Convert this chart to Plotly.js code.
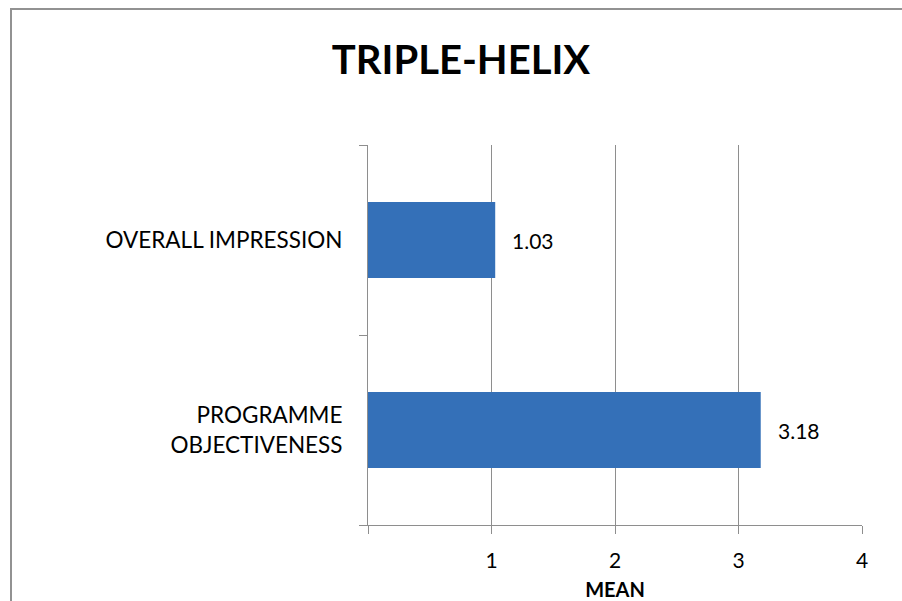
<!DOCTYPE html>
<html>
<head>
<meta charset="utf-8">
<script src="https://cdn.plot.ly/plotly-3.0.1.min.js"></script>
<style>html,body{margin:0;padding:0;background:#fff;}#chart{width:902px;height:601px;}</style>
</head>
<body>
<div id="chart"></div>
<script>
var categories = ["PROGRAMME<br>OBJECTIVENESS", "OVERALL IMPRESSION"];
var meanValues = [3.18, 1.03];
var valueLabels = ["3.18", "1.03"];
var xTickVals = [0, 1, 2, 3, 4];
var xTickText = ["", "1", "2", "3", "4"];

var FONT = "Lato, 'Open Sans', 'Liberation Sans', sans-serif";
var W = 902, H = 601;
var L = 368, R = 40, T = 145, B = 76;
var pw = W - L - R, ph = H - T - B;

var trace = {
  type: "bar",
  orientation: "h",
  x: meanValues,
  y: categories,
  width: 0.4,
  marker: {color: "#3470B8", line: {width: 0}},
  hoverinfo: "x+y"
};

var annotations = meanValues.map(function (v, i) {
  return {
    x: v, y: categories[i], xref: "x", yref: "y",
    text: valueLabels[i], showarrow: false,
    xanchor: "left", yanchor: "middle", xshift: 15,
    font: {family: FONT, size: 21, color: "#000"}
  };
});

var layout = {
  width: W, height: H,
  margin: {l: L, r: R, t: T, b: B, pad: 0},
  paper_bgcolor: "#fff", plot_bgcolor: "#fff",
  showlegend: false,
  title: {
    text: "<b>TRIPLE-HELIX</b>",
    font: {family: FONT, size: 40, color: "#000"},
    x: 461 / W, xref: "container", xanchor: "center",
    y: 1 - 60 / H, yref: "container", yanchor: "middle"
  },
  xaxis: {
    range: [0, 4], fixedrange: true,
    tickmode: "array", tickvals: xTickVals, ticktext: xTickText,
    showgrid: true, gridcolor: "#8e8e8e", gridwidth: 1,
    zeroline: false,
    showline: true, linecolor: "#8e8e8e", linewidth: 1,
    ticks: "outside", ticklen: 8, tickcolor: "#8e8e8e", tickwidth: 1,
    tickfont: {family: FONT, size: 21, color: "#000"},
    ticklabelstandoff: 9,
    title: {text: "<b>MEAN</b>", font: {family: FONT, size: 20, color: "#000"}, standoff: 11}
  },
  yaxis: {
    type: "category", fixedrange: true,
    range: [-0.5, 1.5],
    tickson: "boundaries",
    showgrid: false, zeroline: false,
    showline: true, linecolor: "#8e8e8e", linewidth: 1,
    ticks: "outside", ticklen: 8, tickcolor: "#8e8e8e", tickwidth: 1,
    tickfont: {family: FONT, size: 22.5, color: "#000"},
    ticklabelstandoff: 20
  },
  annotations: annotations,
  shapes: [{
    type: "rect", xref: "paper", yref: "paper",
    x0: (11 - L) / pw, x1: (W + 20 - L) / pw,
    y0: -(H + 20 - (H - B)) / ph, y1: ((H - B) - 9) / ph,
    line: {color: "#929292", width: 2}, fillcolor: "rgba(0,0,0,0)", layer: "below"
  }]
};

Plotly.newPlot("chart", [trace], layout, {displayModeBar: false, staticPlot: true});
</script>
</body>
</html>
